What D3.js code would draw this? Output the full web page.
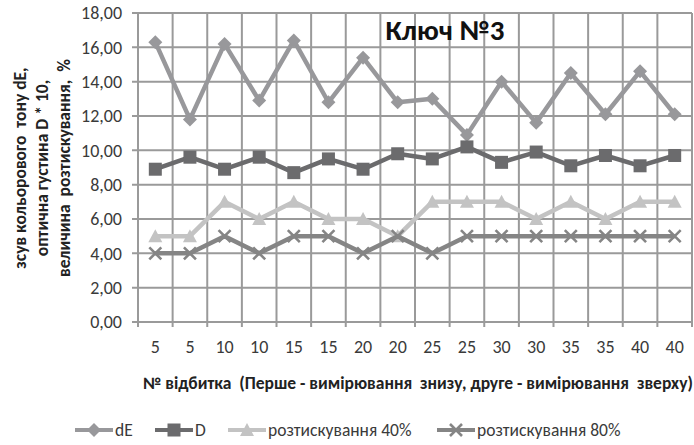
<!DOCTYPE html>
<html>
<head>
<meta charset="utf-8">
<script src="https://cdn.jsdelivr.net/npm/d3@7"></script>
<style>
  body { margin: 0; background: #fff; }
  text { font-family: Carlito, Calibri, "Open Sans", sans-serif; }
</style>
</head>
<body>
<div id="chart"></div>
<script>
var svgWidth = 694;
var svgHeight = 445;

var margin = { top: 13, right: 2, bottom: 123, left: 138 };
var width = svgWidth - margin.left - margin.right;
var height = svgHeight - margin.top - margin.bottom;

// data
var categories = ["5", "5", "10", "10", "15", "15", "20", "20", "25", "25", "30", "30", "35", "35", "40", "40"];
var dE = [16.3, 11.8, 16.2, 12.9, 16.4, 12.8, 15.4, 12.8, 13.0, 10.9, 14.0, 11.6, 14.5, 12.1, 14.6, 12.1];
var D = [8.9, 9.6, 8.9, 9.6, 8.7, 9.5, 8.9, 9.8, 9.5, 10.2, 9.3, 9.9, 9.1, 9.7, 9.1, 9.7];
var press40 = [5, 5, 7, 6, 7, 6, 6, 5, 7, 7, 7, 6, 7, 6, 7, 7];
var press80 = [4, 4, 5, 4, 5, 5, 4, 5, 4, 5, 5, 5, 5, 5, 5, 5];
var yTicks = [0, 2, 4, 6, 8, 10, 12, 14, 16, 18];

var series = [
  { name: "dE", values: dE, color: "#98989b", marker: "diamond" },
  { name: "D", values: D, color: "#6b6b6d", marker: "square" },
  { name: "розтискування 40%", values: press40, color: "#c3c3c3", marker: "triangle" },
  { name: "розтискування 80%", values: press80, color: "#858585", marker: "cross" }
];

var svg = d3.select("#chart")
  .append("svg")
  .attr("width", svgWidth)
  .attr("height", svgHeight);

var chartGroup = svg.append("g")
  .attr("transform", `translate(${margin.left}, ${margin.top})`);

var idx = d3.range(categories.length);

var xScale = d3.scaleBand()
  .domain(idx)
  .range([0, width]);

var yScale = d3.scaleLinear()
  .domain([0, 18])
  .range([height, 0]);

// grid
chartGroup.append("g")
  .selectAll("line")
  .data(yTicks)
  .enter()
  .append("line")
  .attr("x1", -6)
  .attr("x2", width)
  .attr("y1", d => yScale(d))
  .attr("y2", d => yScale(d))
  .attr("stroke", "#9a9a9a")
  .attr("stroke-width", 2);

chartGroup.append("g")
  .selectAll("line")
  .data(d3.range(categories.length + 1))
  .enter()
  .append("line")
  .attr("x1", d => d * xScale.bandwidth())
  .attr("x2", d => d * xScale.bandwidth())
  .attr("y1", 0)
  .attr("y2", height + 5)
  .attr("stroke", "#9a9a9a")
  .attr("stroke-width", 2);

// axes (labels only)
var leftAxis = d3.axisLeft(yScale)
  .tickValues(yTicks)
  .tickSize(0)
  .tickPadding(16)
  .tickFormat(d => d3.format(".2f")(d).replace(".", ","));

var bottomAxis = d3.axisBottom(xScale)
  .tickSize(0)
  .tickPadding(18)
  .tickFormat(i => categories[i]);

chartGroup.append("g")
  .attr("class", "y-axis")
  .call(leftAxis);

chartGroup.append("g")
  .attr("class", "x-axis")
  .attr("transform", `translate(0, ${height})`)
  .call(bottomAxis);

chartGroup.selectAll(".domain").remove();
chartGroup.selectAll(".tick text")
  .attr("font-size", 18)
  .attr("fill", "#3a3a3a")
  .style("font-family", 'Carlito, Calibri, "Open Sans", sans-serif');

// markers
function drawMarker(g, type, color) {
  if (type === "diamond") {
    g.append("path").attr("d", "M0,-7L7,0L0,7L-7,0Z").attr("fill", color);
  } else if (type === "square") {
    g.append("rect").attr("x", -6.5).attr("y", -6.5).attr("width", 13).attr("height", 13).attr("fill", color);
  } else if (type === "triangle") {
    g.append("path").attr("d", "M0,-7L7,6L-7,6Z").attr("fill", color);
  } else {
    g.append("path").attr("d", "M-6,-6L6,6M-6,6L6,-6").attr("stroke", color).attr("stroke-width", 2.6).attr("fill", "none");
  }
}

var line = d3.line()
  .x((d, i) => xScale(i) + xScale.bandwidth() / 2)
  .y(d => yScale(d));

series.forEach(function(s) {
  chartGroup.append("path")
    .datum(s.values)
    .attr("d", line)
    .attr("fill", "none")
    .attr("stroke", s.color)
    .attr("stroke-width", 4.5)
    .attr("stroke-linejoin", "round");

  chartGroup.selectAll(null)
    .data(s.values)
    .enter()
    .append("g")
    .attr("transform", (d, i) => `translate(${xScale(i) + xScale.bandwidth() / 2}, ${yScale(d)})`)
    .each(function() { drawMarker(d3.select(this), s.marker, s.color); });
});

// title
svg.append("text")
  .attr("x", 445)
  .attr("y", 40)
  .attr("text-anchor", "middle")
  .attr("font-size", 29)
  .attr("font-weight", "bold")
  .attr("fill", "#111")
  .text("Ключ №3");

// y axis title
var yTitle = ["зсув кольорового  тону dE,", "оптична густина D * 10,", "величина  розтискування,  %"];
svg.append("g")
  .attr("transform", "translate(0, 168) rotate(-90)")
  .selectAll("text")
  .data(yTitle)
  .enter()
  .append("text")
  .attr("x", 0)
  .attr("y", (d, i) => 26 + i * 22)
  .attr("text-anchor", "middle")
  .attr("font-size", 17.5)
  .attr("font-weight", "bold")
  .attr("fill", "#222")
  .style("white-space", "pre")
  .text(d => d);

// x axis title
svg.append("text")
  .attr("x", 418)
  .attr("y", 389)
  .attr("text-anchor", "middle")
  .attr("font-size", 17.5)
  .attr("font-weight", "bold")
  .attr("fill", "#222")
  .style("white-space", "pre")
  .text("№ відбитка  (Перше - вимірювання  знизу, друге - вимірювання  зверху)");

// legend
var legendX = [75, 155, 228, 437];
var legend = svg.append("g");
series.forEach(function(s, i) {
  var g = legend.append("g").attr("transform", `translate(${legendX[i]}, 430)`);
  g.append("line").attr("x1", 0).attr("x2", 38).attr("y1", 0).attr("y2", 0)
    .attr("stroke", s.color).attr("stroke-width", 4);
  var m = g.append("g").attr("transform", "translate(19, 0)");
  drawMarker(m, s.marker, s.color);
  g.append("text")
    .attr("x", 40)
    .attr("y", 6)
    .attr("font-size", 17.5)
    .attr("fill", "#3a3a3a")
    .text(s.name);
});
</script>
</body>
</html>
